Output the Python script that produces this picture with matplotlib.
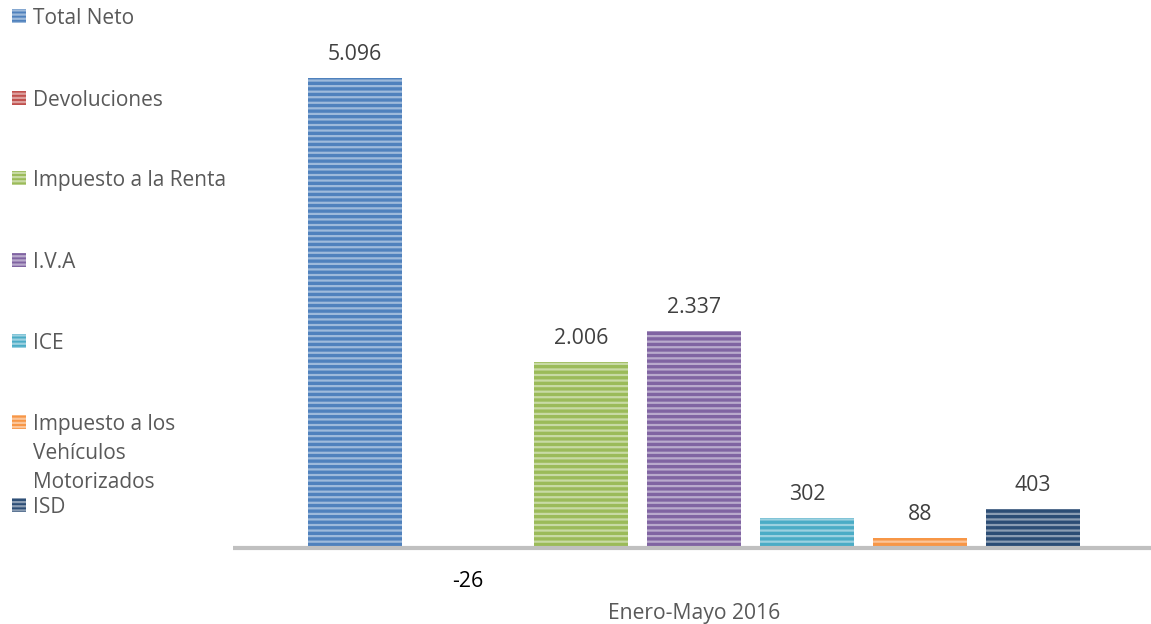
import numpy as np
import matplotlib
matplotlib.use("Agg")
import matplotlib.pyplot as plt
from matplotlib.patches import Rectangle
from matplotlib.colors import to_rgb

# datos
series = ["Total Neto", "Devoluciones", "Impuesto a la Renta", "I.V.A", "ICE",
          "Impuesto a los\nVehículos\nMotorizados", "ISD"]
valores = [5096, -26, 2006, 2337, 302, 88, 403]
etiquetas = ["5.096", "-26", "2.006", "2.337", "302", "88", "403"]
categoria = "Enero-Mayo 2016"
colores = ["#4f81bd", "#c0504d", "#9bbb59", "#8064a2", "#4bacc6", "#f79646", "#2c4d75"]

plt.rcParams['font.family'] = ['Open Sans', 'DejaVu Sans']
plt.rcParams['hatch.linewidth'] = 1.6

def aclarar(c, f=0.45):
    r = np.array(to_rgb(c))
    return tuple(r + (1 - r) * f)

W, H = 1151, 624
fig = plt.figure(figsize=(W / 100, H / 100), dpi=100)

# eje en pixeles: y=0 en 546, 5096 en 78
px_top, px_bot = 40, 580
esc = (546 - 78) / 5096
ax = fig.add_axes([233 / W, 1 - px_bot / H, (W - 233) / W, (px_bot - px_top) / H])
ax.set_ylim(-(px_bot - 546) / esc, (546 - px_top) / esc)
ax.set_xlim((233 - 355) / 113, (1151 - 355) / 113)

x = np.arange(len(valores))
for xi, v, c in zip(x, valores, colores):
    ax.bar(xi, v, width=94 / 113, color=c, edgecolor=aclarar(c), linewidth=0,
           hatch='---', zorder=2)

ax.axhline(-2 / esc, color="#c0c0c0", lw=3.0, zorder=3)

for xi, v, t in zip(x, valores, etiquetas):
    if v >= 0:
        ax.annotate(t, (xi, v), xytext=(0, 13), textcoords="offset pixels",
                    ha="center", va="bottom", fontsize=15.3, color="#404040")
    else:
        ax.annotate(t, (xi, v), xytext=(0, -23), textcoords="offset pixels",
                    ha="center", va="top", fontsize=15.3, color="black")

ax.text(3, -(613 - 546) / esc, categoria, ha="center", va="center",
        fontsize=15.2, color="#595959")

for s in ax.spines.values():
    s.set_visible(False)
ax.set_xticks([])
ax.set_yticks([])

# leyenda manual a la izquierda
ley_y = [16, 98, 178, 260, 341, 422, 505]
for nombre, c, yy in zip(series, colores, ley_y):
    p = Rectangle((12 / W, 1 - (yy + 7) / H), 14 / W, 14 / H, transform=fig.transFigure,
                  facecolor=c, edgecolor=aclarar(c), linewidth=0, hatch='----')
    fig.patches.append(p)
    fig.text(33 / W, 1 - (yy - 8) / H, nombre, ha="left", va="top", fontsize=15,
             color="#595959", linespacing=1.5)

fig.savefig("out.png", dpi=100)
